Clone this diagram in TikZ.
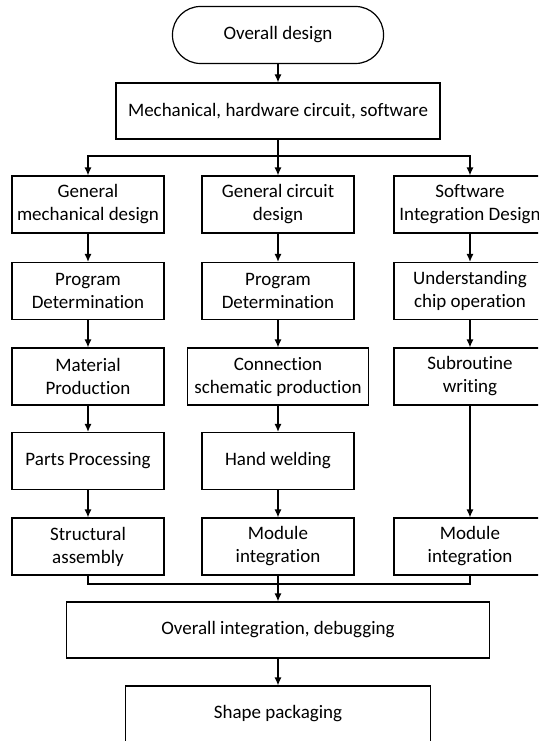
\documentclass[tikz,border=0pt]{standalone}
\usepackage{fontspec}
\setmainfont[RawFeature={-liga}]{Carlito}
\usetikzlibrary{arrows.meta}

\begin{document}
\begin{tikzpicture}[x=1pt, y=-1pt, >={Latex[length=8pt,width=7pt]}, line width=1.2pt,
    every node/.style={font=\fontsize{19}{23}\selectfont, align=center, inner sep=0pt},
    box/.style={draw, minimum width=152, minimum height=57},
    wide/.style={draw, minimum height=56},
    term/.style={draw, rounded corners=28pt, minimum width=211, minimum height=57}]
\useasboundingbox (0,0) rectangle (538,741);
\clip (0,0) rectangle (538,741);

\node[term] (start) at (278,35) {Overall design};
\node[wide, minimum width=324] (mix) at (278,111) {Mechanical, hardware circuit, software};

% mechanical column
\node[box] (a1) at (88,204.5) {General\\mechanical design};
\node[box] (a2) at (88,291) {Program\\Determination};
\node[box] (a3) at (88,376.5) {Material\\Production};
\node[box] (a4) at (88,461) {Parts Processing};
\node[box] (a5) at (88,546.5) {Structural\\assembly};

% circuit column
\node[box] (b1) at (278,204.5) {General circuit\\design};
\node[box] (b2) at (278,291) {Program\\Determination};
\node[box, minimum width=181] (b3) at (278,376.5) {Connection\\schematic production};
\node[box] (b4) at (278,461) {Hand welding};
\node[box] (b5) at (278,546.5) {Module\\integration};

% software column
\node[box] (c1) at (470,204.5) {Software\\Integration Design};
\node[box] (c2) at (470,291) {Understanding\\chip operation};
\node[box] (c3) at (470,376.5) {Subroutine\\writing};
\node[box] (c5) at (470,546.5) {Module\\integration};

\node[wide, minimum width=423] (all) at (278,630) {Overall integration, debugging};
\node[wide, minimum width=305] (pack) at (278,714) {Shape packaging};

\coordinate (split) at (278,156);
\coordinate (join) at (278,584);

\draw[->] (start) -- (mix);
\draw[->] (mix) -- (b1);
\draw[->] (split) -| (a1);
\draw[->] (split) -| (c1);

\foreach \i/\j in {1/2,2/3,3/4,4/5}
{
    \draw[->] (a\i) -- (a\j);
    \draw[->] (b\i) -- (b\j);
}
\draw[->] (c1) -- (c2);
\draw[->] (c2) -- (c3);
\draw[->] (c3) -- (c5);

\draw (a5) |- (join) -| (c5);
\draw[->] (b5) -- (all);
\draw[->] (all) -- (pack);

\end{tikzpicture}
\end{document}
